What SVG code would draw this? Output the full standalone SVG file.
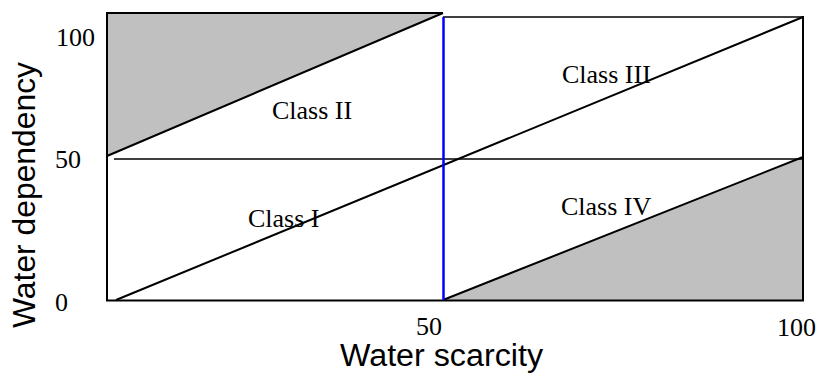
<svg xmlns="http://www.w3.org/2000/svg" width="816" height="374" viewBox="0 0 816 374">
<style>
.ln{stroke:#000;stroke-width:2;fill:none}
.thin{stroke:#000;stroke-width:1.5;fill:none}
.sh{fill:#c0c0c0;stroke:none}
.tm{font-family:"Liberation Serif","Times New Roman",serif;font-size:26px;fill:#000}
.ax{font-family:"Liberation Sans",Arial,sans-serif;fill:#000}
</style>
<rect width="816" height="374" fill="#fff"/>
<g id="regions">
<polygon class="sh" points="107,13 443,13 107,156"/>
<polygon class="sh" points="443,300 803,157 803,300"/>
</g>
<g id="connectors">
<line class="ln" x1="107" y1="13" x2="443" y2="13"/>
<line class="thin" x1="443" y1="17" x2="803" y2="17"/>
<line class="ln" x1="107" y1="12" x2="107" y2="301"/>
<line class="ln" x1="803" y1="16" x2="803" y2="301"/>
<line class="ln" x1="106" y1="300.5" x2="804" y2="300.5"/>
<line class="thin" x1="114" y1="159" x2="803" y2="159"/>
<line class="ln" x1="107" y1="156" x2="443" y2="13"/>
<line class="ln" x1="116" y1="300" x2="803" y2="17"/>
<line class="ln" x1="443" y1="300" x2="803" y2="157"/>
<line x1="443.5" y1="17" x2="443.5" y2="300" stroke="#0000ff" stroke-width="2.5"/>
</g>
<g id="labels">
<text class="tm" x="272" y="119">Class II</text>
<text class="tm" x="248" y="227">Class I</text>
<text class="tm" x="562" y="83">Class III</text>
<text class="tm" x="561" y="215">Class IV</text>
</g>
<g id="ticks">
<text class="tm" x="56" y="46">100</text>
<text class="tm" x="55" y="168">50</text>
<text class="tm" x="55" y="311">0</text>
<text class="tm" x="416" y="335">50</text>
<text class="tm" x="777" y="336">100</text>
</g>
<g id="axis-titles">
<text class="ax" x="340" y="366" font-size="31" textLength="203" lengthAdjust="spacingAndGlyphs">Water scarcity</text>
<text class="ax" font-size="31" transform="translate(35,328) rotate(-90)" textLength="266" lengthAdjust="spacingAndGlyphs">Water dependency</text>
</g>
</svg>
